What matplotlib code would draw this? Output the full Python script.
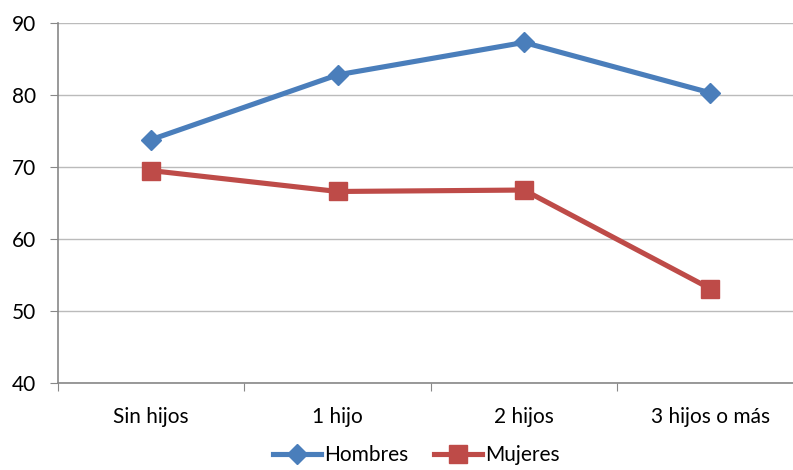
import matplotlib
matplotlib.use('Agg')
import matplotlib.pyplot as plt

categories = ['Sin hijos', '1 hijo', '2 hijos', '3 hijos o más']
hombres = [73.8, 82.8, 87.3, 80.3]
mujeres = [69.5, 66.6, 66.8, 53.1]

plt.rcParams['font.family'] = ['Lato', 'DejaVu Sans']

fig = plt.figure(figsize=(7.93, 4.70), dpi=100)
ax = fig.add_axes([58 / 793, 1 - 383 / 470, (793 - 58) / 793, (383 - 23) / 470])

x = range(len(categories))
ax.plot(x, hombres, color='#4A7EBB', lw=3.7, marker='D', ms=10, label='Hombres')
ax.plot(x, mujeres, color='#BE4B48', lw=3.7, marker='s', ms=12.5, label='Mujeres')

ax.set_ylim(40, 90)
ax.set_yticks([40, 50, 60, 70, 80, 90])
ax.set_xticks([i - 0.5 for i in range(5)], minor=False)
ax.set_xticklabels([])
ax.set_xticks(list(x), minor=True)
ax.set_xticklabels(categories, minor=True)
ax.set_xlim(-0.5, -0.5 + (793 - 58) / 186.4)
ax.tick_params(axis='x', which='minor', length=0, pad=17, labelsize=15)
ax.tick_params(axis='x', which='major', length=6, color='#888888', direction='out')
ax.tick_params(axis='y', length=6, color='#888888', labelsize=15, pad=10)

ax.grid(axis='y', color='#BBBBBB', lw=1)
ax.set_axisbelow(True)
for s in ['top', 'right']:
    ax.spines[s].set_visible(False)
for s in ['left', 'bottom']:
    ax.spines[s].set_color('#888888')
    ax.spines[s].set_linewidth(1.2)

fig.legend(loc='lower center', bbox_to_anchor=(0.525, -0.03), ncol=2, frameon=False,
           fontsize=15, handlelength=2.3, columnspacing=1.2, handletextpad=0.15)

fig.savefig('out.png', dpi=100)
